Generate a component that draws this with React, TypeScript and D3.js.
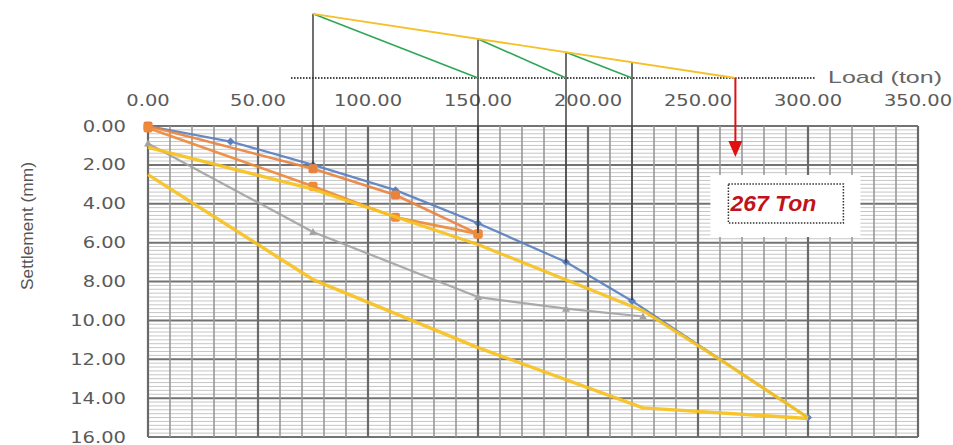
import React from 'react';
import * as d3 from 'd3';

// ---- data ----
const xTicks = [0, 50, 100, 150, 200, 250, 300, 350];
const yTicks = [0, 2, 4, 6, 8, 10, 12, 14, 16];

const blueLoad = [0, 37.5, 75, 112.5, 150, 190, 220, 300];
const blueSettle = [0, 0.8, 2.0, 3.3, 5.0, 7.0, 9.0, 15.0];
const orangeUpLoad = [0, 75, 112.5, 150];
const orangeUpSettle = [0, 2.2, 3.55, 5.55];
const orangeDownLoad = [150, 112.5, 75, 0];
const orangeDownSettle = [5.55, 4.7, 3.1, 0.1];
const greyLoad = [0, 75, 150, 190, 225];
const greySettle = [0.9, 5.45, 8.8, 9.4, 9.8];
const yellowUpLoad = [0, 75, 150, 225, 262.5, 300];
const yellowUpSettle = [1.1, 3.25, 6.1, 9.5, 12.2, 15.0];
const yellowDownLoad = [300, 225, 150, 75, 0];
const yellowDownSettle = [15.05, 14.5, 11.4, 7.9, 2.5];

// construction (Mazurkiewicz-type) annotation
const stepLoads = [75, 150, 190, 220];
const stepSettles = [1.95, 5.5, 7.05, 8.95];
const ultimateLoad = 267;
const ultimateLabel = '267 Ton';
const apexLevel = -5.77;
const baseLevel = -2.47;
const baseLineLoads = [65, 303];
const arrowTipSettle = 1.6;

const W = 953;
const H = 445;

export default function App() {
  const x = d3.scaleLinear().domain([0, 350]).range([148, 918]);
  const y = d3.scaleLinear().domain([0, 16]).range([126, 437]);
  const line = d3.line<[number, number]>().x(d => x(d[0])).y(d => y(d[1]));
  const pts = (a: number[], b: number[]) => a.map((v, i) => [v, b[i]] as [number, number]);

  const minorX = d3.range(0, 351, 10);
  const minorY = d3.range(0, 16.001, 0.2);

  const series = [
    { d: pts(blueLoad, blueSettle), c: '#5A7FBF', w: 2.2, m: 'diamond' },
    { d: pts(orangeUpLoad, orangeUpSettle), c: '#E8833F', w: 2.6, m: 'square' },
    { d: pts(orangeDownLoad, orangeDownSettle), c: '#EE8A3A', w: 2.6, m: 'square' },
    { d: pts(greyLoad, greySettle), c: '#A3A3A3', w: 2.2, m: 'triangle' },
    { d: pts(yellowUpLoad, yellowUpSettle), c: '#F7C11E', w: 3.2, m: 'none' },
    { d: pts(yellowDownLoad, yellowDownSettle), c: '#F7C11E', w: 3.4, m: 'none' },
  ];

  // tangent line from apex over first step to ultimate load on base line
  const apexX = x(stepLoads[0]);
  const apexY = y(apexLevel);
  const endX = x(ultimateLoad);
  const endY = y(baseLevel);
  const topAt = (load: number) => apexY + ((x(load) - apexX) / (endX - apexX)) * (endY - apexY);

  const tickFont = { fontFamily: 'DejaVu Sans', fontSize: 15, fill: '#5a5a5a' };
  const isMajorY = (v: number) => Math.abs(v / 2 - Math.round(v / 2)) < 1e-6;

  return (
    <svg width={W} height={H} style={{ position: 'absolute', left: 0, top: 0, background: '#fff' }}>
      <rect x={0} y={0} width={W} height={H} fill="#fff" />
      {/* grid */}
      <g>
        {minorY.map((v, i) => (
          <line key={'hy' + i} x1={x(0)} x2={x(350)} y1={y(v)} y2={y(v)}
            stroke={isMajorY(v) ? '#737373' : '#c6c6c6'}
            strokeWidth={isMajorY(v) ? 2 : 1} />
        ))}
        {minorX.map((v, i) => (
          <line key={'vx' + i} x1={x(v)} x2={x(v)} y1={y(0)} y2={y(16)}
            stroke={v % 50 === 0 ? '#6a6a6a' : '#999'}
            strokeWidth={v % 50 === 0 ? 2.2 : 1.6} />
        ))}
      </g>
      {/* x tick labels (top) */}
      {xTicks.map((t, i) => (
        <text key={'xt' + i} transform={`translate(${x(t)},${106}) scale(1.3,1)`} textAnchor="middle" {...tickFont}>
          {t.toFixed(2)}
        </text>
      ))}
      {/* y tick labels */}
      {yTicks.map((t, i) => (
        <text key={'yt' + i} transform={`translate(${126},${y(t) + 5.5}) scale(1.3,1)`} textAnchor="end" {...tickFont}>
          {t.toFixed(2)}
        </text>
      ))}
      <text transform={`translate(33,226) rotate(-90)`} textAnchor="middle" fontFamily="Liberation Sans" fontSize={17}
        fill="#555" textLength={128} lengthAdjust="spacingAndGlyphs">Settlement (mm)</text>

      {/* series */}
      {series.map((s, i) => (
        <g key={'s' + i}>
          <path d={line(s.d) || ''} fill="none" stroke={s.c} strokeWidth={s.w} strokeLinejoin="round" opacity={0.92} />
          {s.m !== 'none' && s.d.map((p, j) => {
            const cx = x(p[0]);
            const cy = y(p[1]);
            if (s.m === 'diamond') return <path key={j} d={`M${cx},${cy - 4}L${cx + 4},${cy}L${cx},${cy + 4}L${cx - 4},${cy}Z`} fill={s.c} />;
            if (s.m === 'square') return <rect key={j} x={cx - 4.5} y={cy - 4.5} width={9} height={9} fill={s.c} rx={2} />;
            return <path key={j} d={`M${cx},${cy - 4}L${cx + 4},${cy + 3}L${cx - 4},${cy + 3}Z`} fill={s.c} />;
          })}
        </g>
      ))}

      {/* construction annotation */}
      <line x1={x(baseLineLoads[0])} x2={x(baseLineLoads[1])} y1={y(baseLevel)} y2={y(baseLevel)}
        stroke="#444" strokeWidth={2} strokeDasharray="1.5,1.5" />
      <text x={828} y={y(baseLevel) + 5} fontFamily="Liberation Sans" fontSize={17} fill="#666"
        textLength={114} lengthAdjust="spacingAndGlyphs">Load (ton)</text>
      {stepLoads.map((l, i) => (
        <line key={'v' + i} x1={x(l)} x2={x(l)} y1={topAt(l)} y2={y(stepSettles[i])} stroke="#333" strokeWidth={1.4} />
      ))}
      {stepLoads.map((l, i) => {
        const next = i + 1 < stepLoads.length ? stepLoads[i + 1] : null;
        if (next === null) return null;
        return <line key={'g' + i} x1={x(l)} y1={topAt(l)} x2={x(next)} y2={y(baseLevel)} stroke="#2FA656" strokeWidth={1.6} />;
      })}
      <line x1={apexX} y1={apexY} x2={endX} y2={endY} stroke="#F5C02A" strokeWidth={1.8} />
      {/* red arrow */}
      <line x1={endX} x2={endX} y1={endY} y2={y(arrowTipSettle) - 12} stroke="#E01010" strokeWidth={2} />
      <path d={`M${endX - 7},${y(arrowTipSettle) - 16}L${endX + 7},${y(arrowTipSettle) - 16}L${endX},${y(arrowTipSettle)}Z`} fill="#E01010" />

      {/* label box */}
      <rect x={endX - 25} y={175} width={150} height={62} fill="#fff" />
      <rect x={endX - 7} y={184} width={115} height={39} fill="none" stroke="#333" strokeWidth={1.5} strokeDasharray="1.5,1.5" />
      <text x={endX - 5} y={211} fontFamily="Liberation Sans" fontStyle="italic" fontWeight="bold" fontSize={22}
        fill="#C0141C" textLength={86} lengthAdjust="spacingAndGlyphs">{ultimateLabel}</text>
    </svg>
  );
}
